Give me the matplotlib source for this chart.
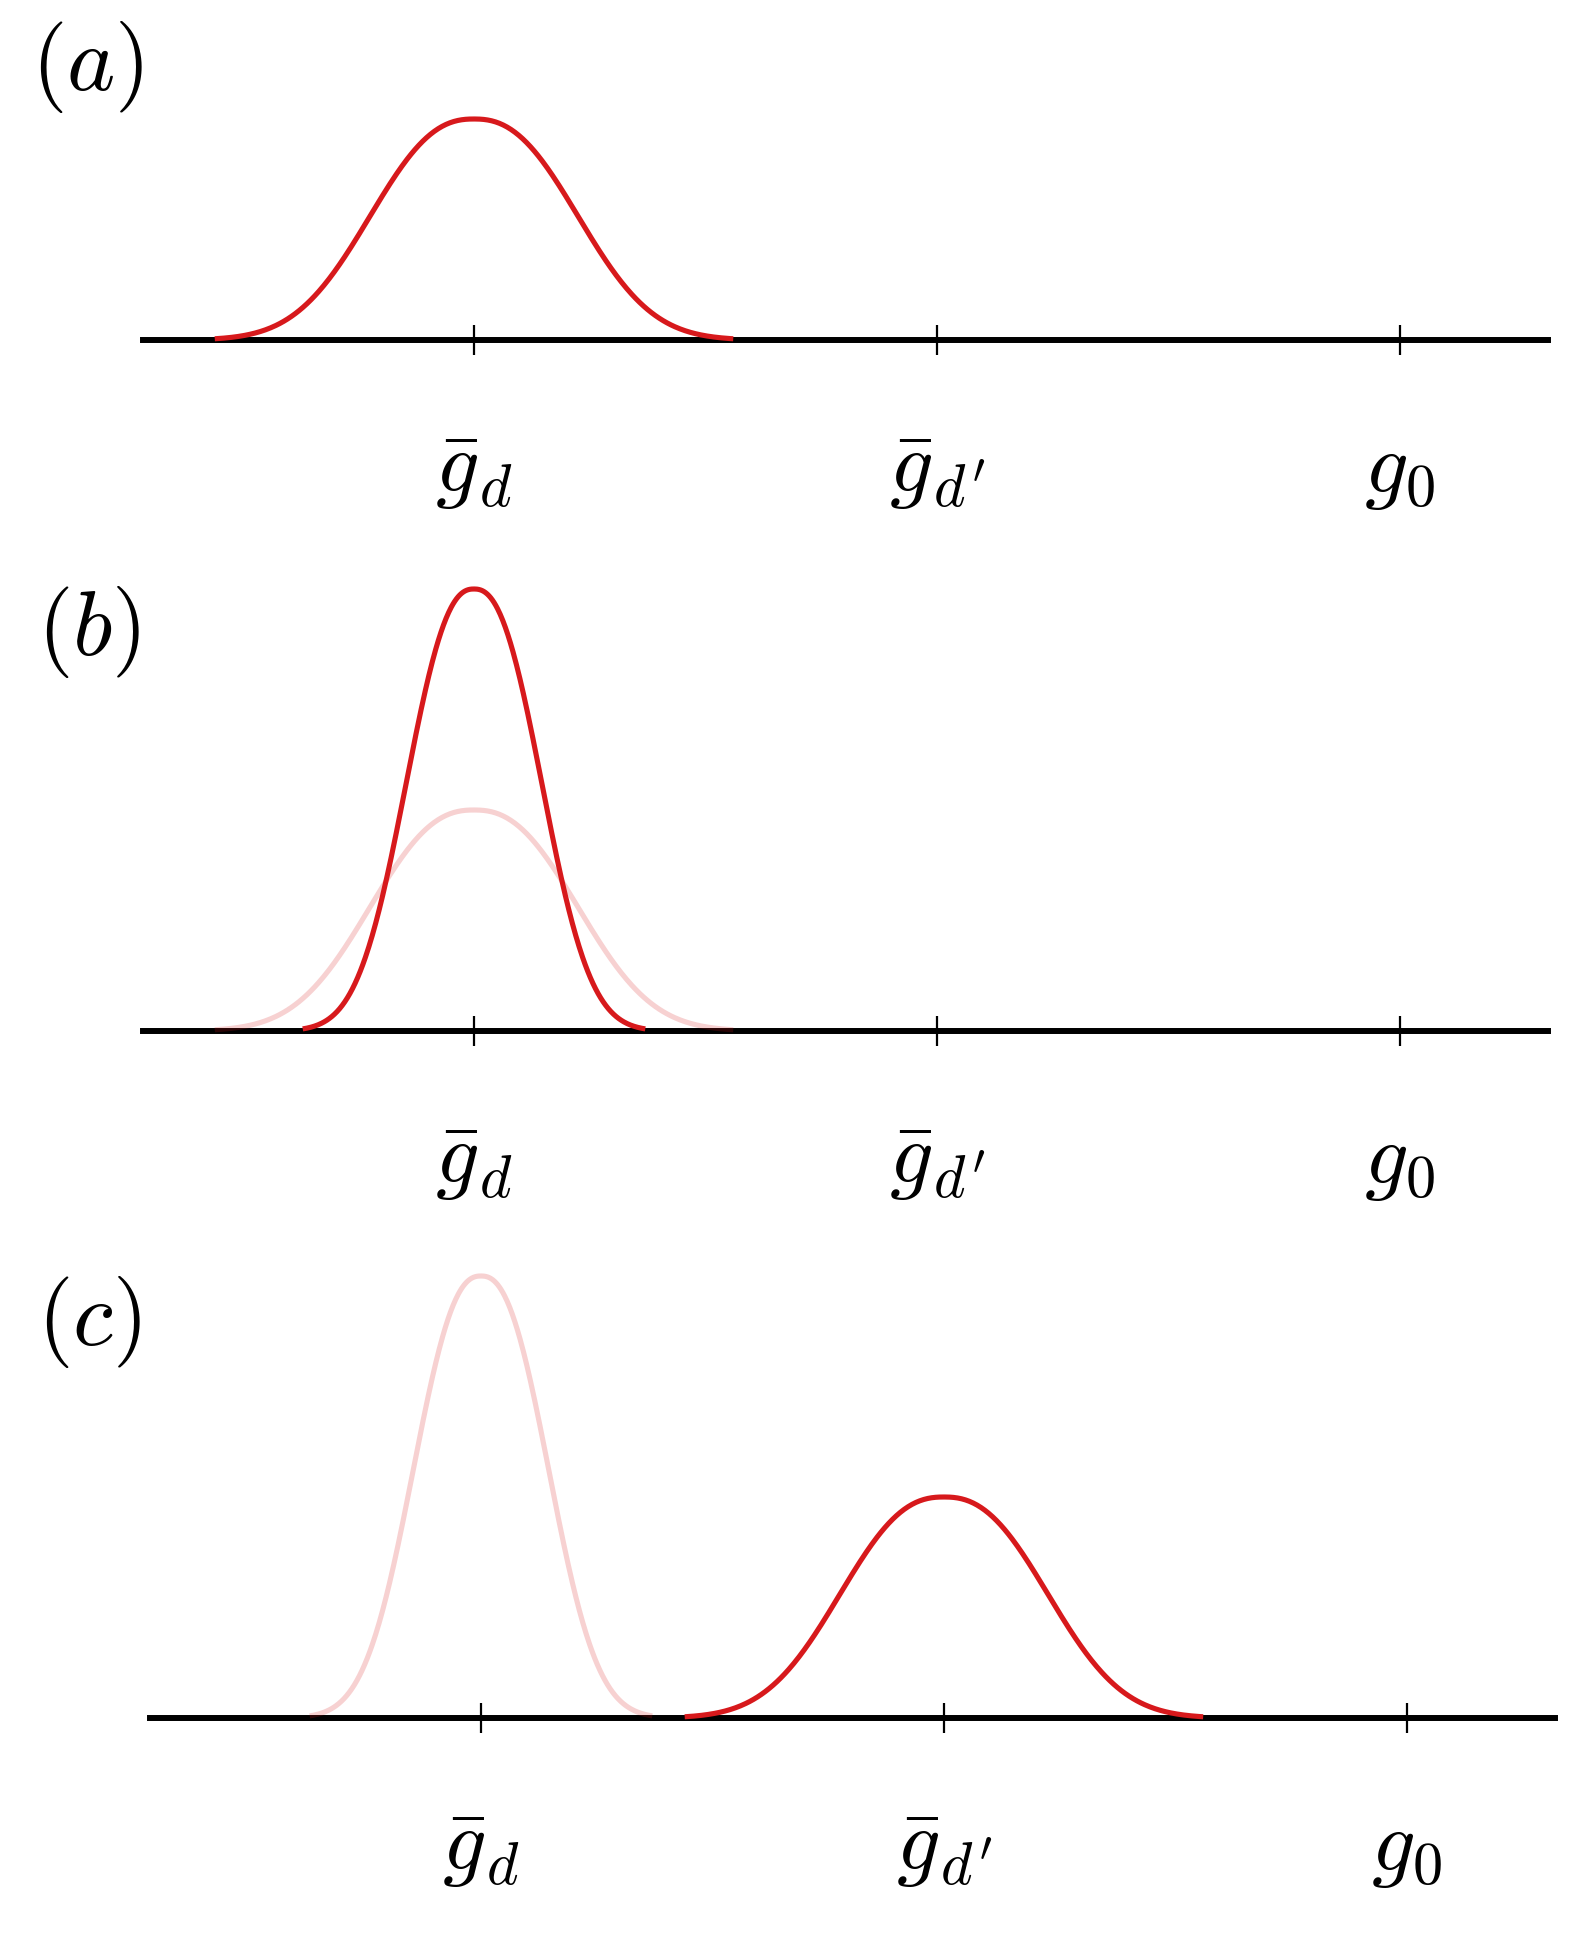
import numpy as np
import matplotlib
matplotlib.use("Agg")
import matplotlib.pyplot as plt

plt.rcParams['mathtext.fontset'] = 'cm'

# tick positions and labels on the g axis
tick_pos = [1, 2, 3]
tick_labels = [r'$\bar{g}_d$', r"$\bar{g}_{d'}$", r'$g_0$']
panel_labels = [r'$(a)$', r'$(b)$', r'$(c)$']

# the two peak shapes: broad (low) and narrow (tall)
peak_height = {'broad': 1.0, 'narrow': 2.0}
peak_width = {'broad': 0.282, 'narrow': 0.184}
peak_span = {'broad': 0.56, 'narrow': 0.37}
shape_power = 2.4

# (shape, centre) drawn in each panel
bright_peaks = [('broad', 1.0), ('narrow', 1.0), ('broad', 2.0)]
faint_peaks = [None, ('broad', 1.0), ('narrow', 1.0)]

RED = '#d7191c'
W, H = 1576, 1949
UNIT = 221.0  # px per unit of height
axis_y = [341, 1032, 1719]
axis_x0 = [143, 143, 150]
axis_x1 = [1548, 1548, 1555]
label_xy = [(31, 19), (37, 584), (37, 1274)]
XLIM = (0.285, 3.32)
YLIM = (-0.2, 2.1)


def peak(shape, centre):
    x = np.linspace(centre - peak_span[shape], centre + peak_span[shape], 400)
    y = peak_height[shape] * np.exp(-np.abs((x - centre) / peak_width[shape]) ** shape_power)
    return x, y


fig = plt.figure(figsize=(W / 100, H / 100), dpi=100)

for i in range(3):
    bottom_px = axis_y[i] - YLIM[0] * UNIT
    height_px = (YLIM[1] - YLIM[0]) * UNIT
    ax = fig.add_axes([axis_x0[i] / W, 1 - bottom_px / H,
                       (axis_x1[i] - axis_x0[i]) / W, height_px / H])
    ax.set_xlim(*XLIM)
    ax.set_ylim(*YLIM)
    for s in ['top', 'right', 'left']:
        ax.spines[s].set_visible(False)
    ax.spines['bottom'].set_position(('data', 0))
    ax.spines['bottom'].set_linewidth(4.3)
    ax.set_yticks([])
    ax.set_xticks(tick_pos, tick_labels)
    ax.tick_params(axis='x', direction='inout', length=21, width=1.6,
                   pad=53, labelsize=62)
    ax.patch.set_visible(False)

    if faint_peaks[i] is not None:
        x, y = peak(*faint_peaks[i])
        ax.plot(x, y, color=RED, alpha=0.2, lw=3.7, zorder=3,
                solid_capstyle='butt', clip_on=False)
    x, y = peak(*bright_peaks[i])
    ax.plot(x, y, color=RED, lw=3.7, zorder=3, solid_capstyle='butt',
            clip_on=False)

    fig.text(label_xy[i][0] / W, 1 - label_xy[i][1] / H, panel_labels[i],
             ha='left', va='top', fontsize=66)

fig.savefig('out.png', dpi=100, facecolor='white')
